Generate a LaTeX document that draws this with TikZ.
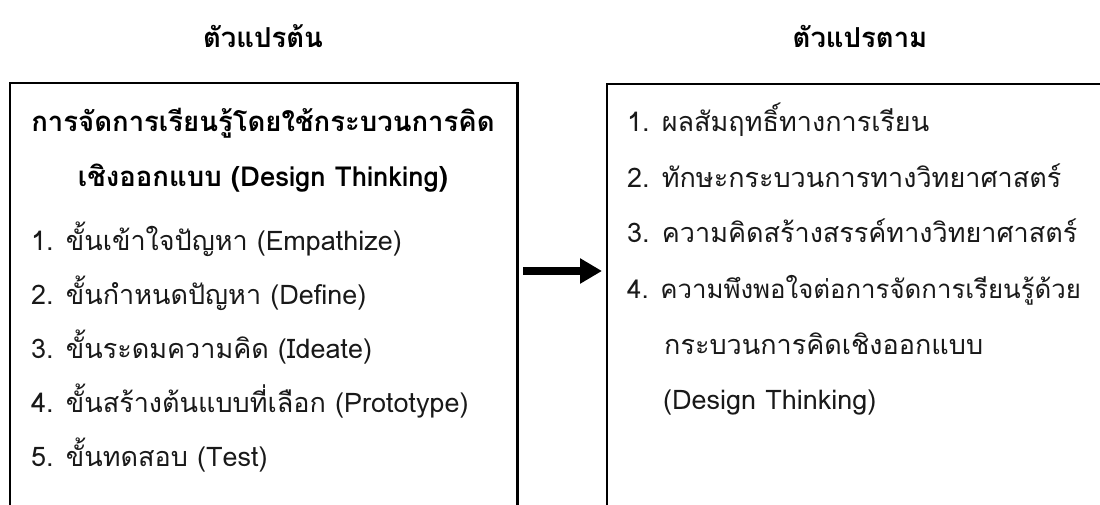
\documentclass[tikz,border=0pt]{standalone}
\usepackage{fontspec}
\usetikzlibrary{arrows.meta}
\newfontfamily\thai[Script=Thai]{Loma}
\begin{document}
\begin{tikzpicture}[x=1pt,y=-1pt,
  txt/.style={font=\thai\fontsize{27}{32}\selectfont, anchor=base west, inner sep=0pt, text=black!90},
  txtnarrow/.style={txt, font=\thai\fontsize{25.8}{32}\selectfont},
  head/.style={font=\thai\bfseries\fontsize{27.5}{32}\selectfont, anchor=base, inner sep=0pt},
  boxframe/.style={draw=none, minimum width=#1, inner sep=0pt},
  edge/.style={line width=2.6pt},
  bigarrow/.style={line width=8pt, -{Triangle[length=22pt,width=24pt]}}]
\useasboundingbox (0,0) rectangle (1100,505);
\begin{scope}
\clip (0,0) rectangle (1100,505);
\node[boxframe=507pt, minimum height=460pt, anchor=north west] (lbox) at (10,83) {};
\node[boxframe=506pt, minimum height=460pt, anchor=north west] (rbox) at (607,84) {};
\draw[edge] (lbox.south west) -- (lbox.north west) -- (lbox.north east) -- (lbox.south east);
\draw[edge] (rbox.south west) -- (rbox.north west) -- (rbox.north east) -- (rbox.south east);
\end{scope}
\node[head] (h1) at (263,48) {ตัวแปรต้น};
\node[head] (h2) at (860,48) {ตัวแปรตาม};
% left box
\node[head] (l0a) at (263,132) {การจัดการเรียนรู้โดยใช้กระบวนการคิด};
\node[head] (l0b) at (263,187) {เชิงออกแบบ (Design Thinking)};
\node[txt] (l1) at (31,250) {1. ขั้นเข้าใจปัญหา (Empathize)};
\node[txt] (l2) at (31,304) {2. ขั้นกำหนดปัญหา (Define)};
\node[txt] (l3) at (31,358) {3. ขั้นระดมความคิด (Ideate)};
\node[txt] (l4) at (31,412) {4. ขั้นสร้างต้นแบบที่เลือก (Prototype)};
\node[txt] (l5) at (31,466) {5. ขั้นทดสอบ (Test)};
% right box
\node[txt] (r1) at (627,132) {1. ผลสัมฤทธิ์ทางการเรียน};
\node[txt] (r2) at (627,187.5) {2. ทักษะกระบวนการทางวิทยาศาสตร์};
\node[txt] (r3) at (627,243) {3. ความคิดสร้างสรรค์ทางวิทยาศาสตร์};
\node[txtnarrow] (r4) at (627,298.5) {4. ความพึงพอใจต่อการจัดการเรียนรู้ด้วย};
\node[txt] (r5) at (664,354) {กระบวนการคิดเชิงออกแบบ};
\node[txt] (r6) at (663,409.5) {(Design Thinking)};
\draw[bigarrow] ([shift={(6,188)}]lbox.north east) -- ([shift={(-5,187)}]rbox.north west);
\end{tikzpicture}
\end{document}
